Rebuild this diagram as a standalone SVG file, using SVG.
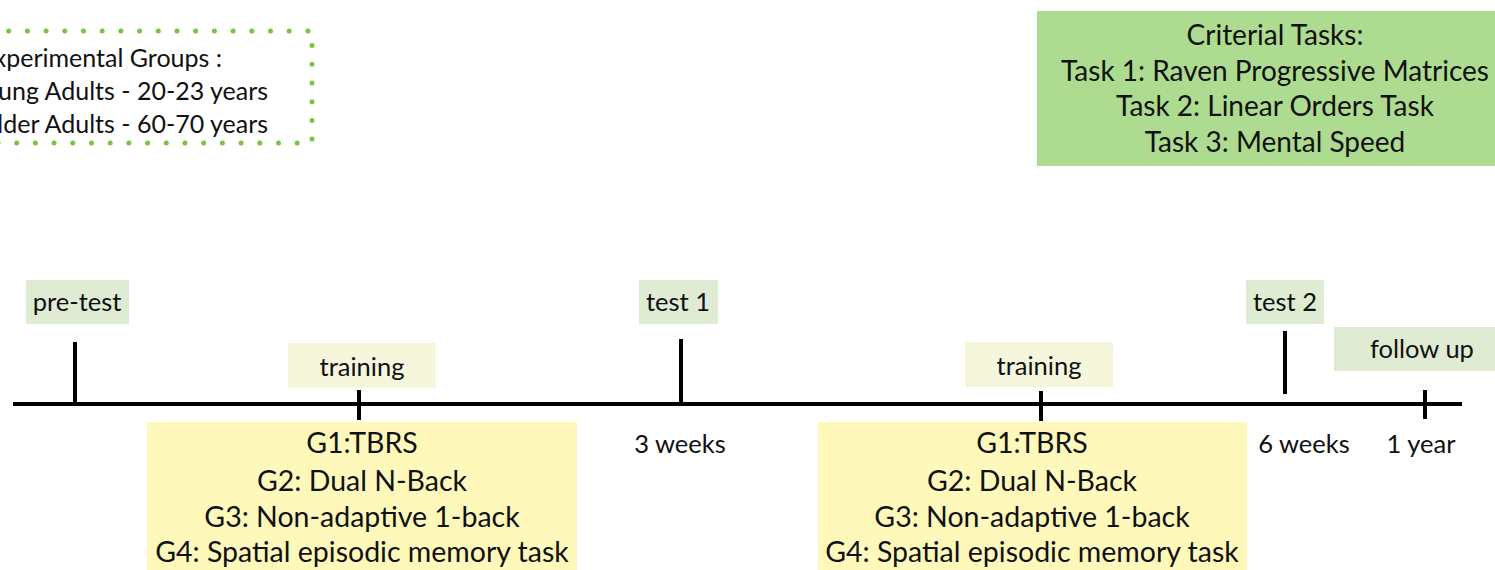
<svg xmlns="http://www.w3.org/2000/svg" width="1495" height="570" viewBox="0 0 1495 570">
<style>
text{font-family:Lato,"Open Sans","Liberation Sans",sans-serif;fill:#111;}
.big{font-size:28.5px;text-anchor:middle;}
.crit{font-size:28px;text-anchor:middle;}
.lbl{font-size:25.5px;text-anchor:middle;}
.grp{font-size:25px;text-anchor:end;}
.tl{stroke:#000;stroke-width:4;fill:none;}
.lg{fill:#dfebd3;}
.ly{fill:#f5f6dc;}
.yb{fill:#fef9bb;}
</style>
<g id="groups">
<path d="M -10 31 H 312 V 143 H -10" fill="none" stroke="#7cc242" stroke-width="5" stroke-linecap="round" stroke-dasharray="0 18.7"/>
<text class="grp" x="222" y="67">Experimental Groups :</text>
<text class="grp" x="268" y="100">Young Adults - 20-23 years</text>
<text class="grp" x="268" y="133">Older Adults - 60-70 years</text>
</g>
<g id="criterial">
<rect x="1037" y="11" width="458" height="155" fill="#addb8f"/>
<text class="crit" x="1275" y="45">Criterial Tasks:</text>
<text class="crit" x="1275" y="81">Task 1: Raven Progressive Matrices</text>
<text class="crit" x="1275" y="116">Task 2: Linear Orders Task</text>
<text class="crit" x="1275" y="152">Task 3: Mental Speed</text>
</g>
<g id="connectors">
<line class="tl" x1="13" y1="404" x2="1462" y2="404"/>
<line class="tl" x1="75" y1="342" x2="75" y2="404"/>
<line class="tl" x1="359" y1="390" x2="359" y2="420"/>
<line class="tl" x1="681" y1="339" x2="681" y2="404"/>
<line class="tl" x1="1041" y1="391" x2="1041" y2="421"/>
<line class="tl" x1="1285" y1="331" x2="1285" y2="394"/>
<line class="tl" x1="1425" y1="390" x2="1425" y2="419"/>
</g>
<g id="pretest">
<rect class="lg" x="26" y="280" width="103" height="44"/>
<text class="lbl" x="77" y="311">pre-test</text>
</g>
<g id="training1">
<rect class="ly" x="288" y="343" width="148" height="45"/>
<text class="lbl" x="362" y="376">training</text>
</g>
<g id="test1">
<rect class="lg" x="639" y="280" width="79" height="44"/>
<text class="lbl" x="678" y="311">test 1</text>
</g>
<g id="training2">
<rect class="ly" x="965" y="342" width="148" height="45"/>
<text class="lbl" x="1039" y="375">training</text>
</g>
<g id="test2">
<rect class="lg" x="1246" y="280" width="78" height="44"/>
<text class="lbl" x="1285" y="311">test 2</text>
</g>
<g id="followup">
<rect class="lg" x="1334" y="327" width="161" height="44"/>
<text class="lbl" x="1422" y="358">follow up</text>
</g>
<g id="weeks3"><text class="lbl" x="680" y="453">3 weeks</text></g>
<g id="weeks6"><text class="lbl" x="1304" y="453">6 weeks</text></g>
<g id="year1"><text class="lbl" x="1421" y="453">1 year</text></g>
<g id="groups1">
<rect class="yb" x="147" y="422" width="430" height="148"/>
<text class="big" x="362" y="453">G1:TBRS</text>
<text class="big" x="362" y="491">G2: Dual N-Back</text>
<text class="big" x="362" y="527">G3: Non-adaptive 1-back</text>
<text class="big" x="362" y="562">G4: Spatial episodic memory task</text>
</g>
<g id="groups2">
<rect class="yb" x="818" y="422" width="429" height="148"/>
<text class="big" x="1032" y="453">G1:TBRS</text>
<text class="big" x="1032" y="491">G2: Dual N-Back</text>
<text class="big" x="1032" y="527">G3: Non-adaptive 1-back</text>
<text class="big" x="1032" y="562">G4: Spatial episodic memory task</text>
</g>
</svg>
